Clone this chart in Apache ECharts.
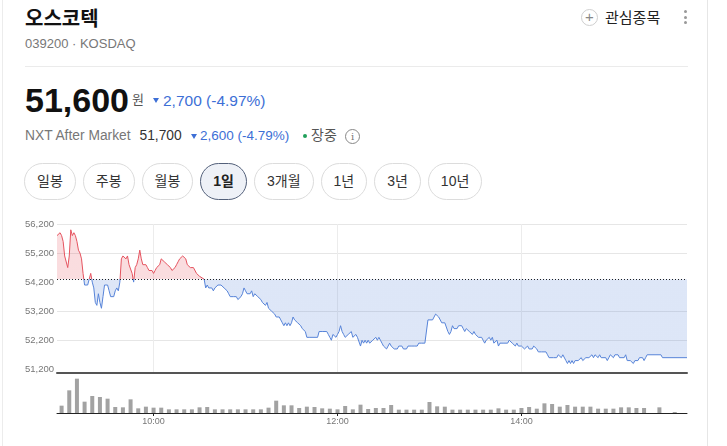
<!DOCTYPE html>
<html lang="ko">
<head>
<meta charset="utf-8">
<title>오스코텍 1일 차트</title>
<script src="https://cdn.jsdelivr.net/npm/echarts@6/dist/echarts.min.js"></script>
<style>
  html, body { margin: 0; padding: 0; background: #fff; }
  body {
    width: 727px; height: 446px; position: relative; overflow: hidden;
    font-family: "Liberation Sans", "Noto Sans CJK KR", sans-serif; color: #222;
  }
  .abs { position: absolute; white-space: nowrap; }
  .card-l { position: absolute; left: 2px; top: 0; width: 1px; height: 446px; background: #ececec; }
  .card-r { position: absolute; left: 707px; top: 0; width: 1px; height: 446px; background: #e6e6e6; }
  .down { position: absolute; width: 0; height: 0; border-left: 3.5px solid transparent;
          border-right: 3.5px solid transparent; border-top: 5px solid #3d6fd6; }
  .btns { position: absolute; left: 24px; top: 163px; display: flex; gap: 7px; }
  .btn { box-sizing: border-box; height: 37px; padding: 0 12px; border: 1px solid #dcdcdc;
         border-radius: 19px; font-size: 14px; line-height: 35px; color: #333; background: #fff; }
  .btn.on { border-color: #53607a; background: #eef1f7; font-weight: bold; color: #222; }
  #main { position: absolute; left: 0; top: 205px; width: 727px; height: 241px; }
</style>
</head>
<body>
<div class="card-l"></div>
<div class="card-r"></div>

<div class="abs" style="left:25px;top:7px;font-size:20px;line-height:24px;font-weight:bold;color:#111;">오스코텍</div>
<div class="abs" style="left:25px;top:36px;font-size:13px;line-height:16px;color:#777;">039200 · KOSDAQ</div>

<div class="abs" style="left:581px;top:9px;width:17px;height:17px;border:1px solid #cfcfcf;border-radius:50%;box-sizing:border-box;text-align:center;font-size:15px;line-height:14px;color:#888;">+</div>
<div class="abs" style="left:605px;top:8px;font-size:15px;line-height:20px;color:#222;">관심종목</div>
<div class="abs" style="left:684px;top:10px;width:3px;height:3px;border-radius:50%;background:#999;"></div>
<div class="abs" style="left:684px;top:15.5px;width:3px;height:3px;border-radius:50%;background:#999;"></div>
<div class="abs" style="left:684px;top:21px;width:3px;height:3px;border-radius:50%;background:#999;"></div>

<div class="abs" style="left:25px;top:66px;width:663px;height:1px;background:#ebebeb;"></div>

<div class="abs" style="left:25px;top:80px;font-size:34px;line-height:40px;font-weight:bold;color:#111;">51,600</div>
<div class="abs" style="left:132px;top:91px;font-size:13px;line-height:18px;color:#555;">원</div>
<div class="down" style="left:152.5px;top:97.5px;"></div>
<div class="abs" style="left:163px;top:91px;font-size:15.5px;line-height:20px;color:#3d6fd6;">2,700 (-4.97%)</div>

<div class="abs" style="left:25px;top:127px;font-size:13.8px;line-height:18px;color:#777;">NXT After Market</div>
<div class="abs" style="left:139.5px;top:127px;font-size:13.8px;line-height:18px;color:#333;">51,700</div>
<div class="down" style="left:190.5px;top:133.5px;"></div>
<div class="abs" style="left:200px;top:127px;font-size:13.5px;line-height:18px;color:#3d6fd6;">2,600 (-4.79%)</div>
<div class="abs" style="left:303px;top:134px;width:4px;height:4px;border-radius:50%;background:#20a05a;"></div>
<div class="abs" style="left:311px;top:126px;font-size:14px;line-height:19px;color:#555;">장중</div>
<div class="abs" style="left:345px;top:129px;width:15px;height:15px;border:1px solid #888;border-radius:50%;box-sizing:border-box;text-align:center;font-size:10px;line-height:13px;color:#777;font-family:'DejaVu Serif',serif;">i</div>

<div class="btns">
  <div class="btn">일봉</div>
  <div class="btn">주봉</div>
  <div class="btn">월봉</div>
  <div class="btn on">1일</div>
  <div class="btn">3개월</div>
  <div class="btn">1년</div>
  <div class="btn">3년</div>
  <div class="btn">10년</div>
</div>

<div id="main"></div>

<script>
// 전일 종가 (점선 기준선)
const prevClose = 54300;

// 1분 체결가 (시각, 가격)
const times = [
  '08:57','08:58','08:59','09:00','09:01','09:02','09:04','09:05','09:06','09:07','09:08','09:09',
  '09:10','09:11','09:12','09:13','09:14','09:15','09:17','09:18','09:19','09:20','09:21',
  '09:22','09:23','09:24','09:25','09:26','09:27','09:28','09:30','09:31','09:32','09:33','09:34',
  '09:35','09:36','09:37','09:38','09:39','09:40','09:42','09:43','09:44','09:45','09:46','09:47',
  '09:48','09:49','09:50','09:51','09:52','09:53','09:55','09:56','09:57','09:58','09:59',
  '10:00','10:01','10:02','10:03','10:04','10:05','10:07','10:08','10:09','10:10','10:11',
  '10:12','10:13','10:14','10:15','10:16','10:17','10:19','10:20','10:21','10:22','10:24',
  '10:26','10:28','10:30','10:33','10:34','10:35','10:36','10:37','10:38','10:39',
  '10:40','10:41','10:42','10:44','10:45','10:46','10:47','10:48','10:49','10:50','10:51','10:52',
  '10:53','10:54','10:55','10:57','10:58','10:59','11:00','11:01','11:02','11:03','11:04','11:05',
  '11:06','11:07','11:08','11:10','11:11','11:12','11:13','11:14','11:15','11:16','11:17','11:18',
  '11:19','11:20','11:22','11:23','11:24','11:25','11:26','11:27','11:28','11:29','11:30','11:31',
  '11:32','11:34','11:35','11:36','11:37','11:38','11:39','11:40','11:42','11:44','11:47','11:48',
  '11:50','11:53','11:54','11:55','11:56','11:57','11:59','12:00','12:01',
  '12:02','12:03','12:04','12:05','12:06','12:07','12:08','12:09','12:10','12:12','12:13','12:14',
  '12:15','12:16','12:17','12:18','12:19','12:20','12:21','12:22','12:23','12:25','12:26','12:27',
  '12:28','12:29','12:30','12:31','12:32','12:33','12:34','12:35','12:37','12:38','12:39','12:40',
  '12:41','12:42','12:43','12:44','12:45','12:46','12:47','12:48','12:50','12:51','12:52','12:53','12:55','12:57',
  '12:58','12:59','13:00','13:02','13:03','13:04','13:06','13:08','13:10','13:12','13:13','13:14',
  '13:15','13:16','13:17','13:18','13:19','13:21','13:22','13:23','13:24','13:26','13:27',
  '13:28','13:29','13:30','13:31','13:32','13:34','13:35','13:36','13:37','13:38','13:39','13:40','13:41',
  '13:42','13:43','13:44','13:45','13:46','13:47','13:48','13:49','13:51','13:52','13:53','13:54',
  '13:55','13:56','13:57','13:58','13:59','14:00','14:01','14:02','14:04','14:05','14:06','14:07',
  '14:08','14:09','14:10','14:11','14:12','14:13','14:14','14:16','14:17','14:18','14:19','14:21',
  '14:22','14:23','14:24','14:25','14:26','14:27','14:29','14:30','14:31','14:32','14:33','14:34','14:35',
  '14:36','14:37','14:38','14:39','14:40','14:42','14:43','14:44','14:45','14:46','14:47','14:48','14:49',
  '14:50','14:51','14:52','14:53','14:55','14:56','14:57','14:58','14:59','15:00','15:01','15:02',
  '15:03','15:04','15:05','15:07','15:08','15:09','15:10','15:11','15:12','15:13','15:14','15:15','15:16','15:17',
  '15:19','15:20','15:21','15:22','15:31','15:32','15:48'
];
const prices = [
  55800,55800,55900,55800,55600,55100,54700,55100,56000,55800,55900,55800,
  55600,55300,55200,55000,54500,54100,54100,54300,54500,54200,54000,
  53500,53400,53800,53500,53300,53700,54100,54100,53900,53700,53700,53700,
  53900,54000,53900,54200,55000,55100,55000,55100,54800,54800,54500,54200,
  54700,54800,55000,55300,55000,54800,54800,54700,54600,54600,54600,
  54500,54600,54700,54700,54800,55000,54900,54900,54800,54800,54700,
  54600,54600,54700,54800,54900,55000,55100,55100,55000,54800,54700,
  54700,54500,54400,54300,54000,54100,54000,54000,54000,53900,
  54000,54000,54100,54100,54100,54000,54000,53900,53800,53700,53700,53700,
  53700,53700,53600,53700,53800,54000,53900,53800,53800,53800,53900,53700,
  53800,53800,53700,53600,53500,53500,53400,53500,53300,53300,53200,53200,
  53100,53000,53000,52900,52800,52700,52800,52700,52800,52700,52800,53000,
  52900,52800,52800,52700,52600,52600,52500,52300,52300,52300,52300,52500,
  52500,52500,52400,52300,52200,52400,52300,52400,52500,
  52700,52500,52400,52300,52300,52400,52400,52500,52300,52400,52300,52300,
  52000,52200,52100,52200,52100,52200,52100,52100,52200,52300,52200,52300,
  52200,52100,52000,52000,51900,52000,52100,52000,51900,51900,51900,52000,
  52000,52000,51900,51900,51900,52000,52000,52000,52000,52000,52000,52100,52100,52100,
  52100,52900,52900,52900,52900,53100,53000,52800,52800,52500,52400,52500,
  52700,52600,52600,52600,52700,52700,52600,52500,52600,52500,52500,
  52400,52500,52400,52400,52300,52300,52200,52100,52200,52200,52300,52200,52300,
  52100,52100,52200,52000,52100,52100,52100,52100,52100,52200,52200,52100,
  52100,52000,52100,52000,52000,52000,52000,51900,52000,51900,51900,51900,
  52000,52000,51900,51800,51800,51800,51800,51800,51700,51600,51600,51600,
  51600,51600,51700,51700,51600,51700,51500,51400,51500,51400,51500,51400,51500,
  51500,51500,51500,51600,51500,51600,51600,51600,51600,51700,51600,51700,51700,
  51600,51700,51600,51600,51600,51500,51600,51700,51700,51600,51700,51700,
  51700,51600,51600,51600,51700,51500,51500,51500,51500,51400,51500,51500,51500,51600,
  51600,51500,51600,51700,51700,51600,51600
];

// 5분 거래량 (천주)
const volumeTimes = [
  '09:00','09:05','09:10','09:15','09:20','09:25','09:30','09:35','09:40','09:45','09:50','09:55',
  '10:00','10:05','10:10','10:15','10:20','10:25','10:30','10:35','10:40','10:45','10:50','10:55',
  '11:00','11:05','11:10','11:15','11:20','11:25','11:30','11:35','11:40','11:45','11:50','11:55',
  '12:00','12:05','12:10','12:15','12:20','12:25','12:30','12:35','12:40','12:45','12:50','12:55',
  '13:00','13:05','13:10','13:15','13:20','13:25','13:30','13:35','13:40','13:45','13:50','13:55',
  '14:00','14:05','14:10','14:15','14:20','14:25','14:30','14:35','14:40','14:45','14:50','14:55',
  '15:00','15:05','15:10','15:15','15:20','15:25','15:30','15:35','15:40'
];
const volumes = [
  22,68,103,34,51,48,43,18,17,41,14,19,
  16,16,11,11,11,11,17,18,11,11,11,11,
  11,11,11,16,37,23,23,15,19,18,14,13,
  11,21,11,25,12,15,15,24,10,10,10,10,
  33,20,19,10,10,10,10,10,10,14,10,10,
  15,18,13,29,27,19,24,19,19,19,13,13,
  13,17,17,15,15,0,17,0,3
];

// 축 눈금
const priceLabels = [51200, 52200, 53200, 54200, 55200, 56200];
const priceGridLines = [52200, 53200, 55200, 56200];
const timeLabels = ['10:00', '12:00', '14:00'];

const toMin = t => { const [h, m] = t.split(':').map(Number); return h * 60 + m; };
const fmtTime = v => String(Math.floor(v / 60)).padStart(2, '0') + ':' + String(v % 60).padStart(2, '0');
const timeTicks = timeLabels.map(toMin);

const lineData = times.map((t, i) => [toMin(t), prices[i]]);
const volData = volumeTimes.map((t, i) => [toMin(t), volumes[i]]);

const chartDom = document.getElementById('main');
const myChart = echarts.init(chartDom, null, { renderer: 'canvas' });

const axisFont = { fontFamily: 'Liberation Sans', color: '#777' };

const option = {
  animation: false,
  grid: [
    { left: 57, top: 19, width: 630, height: 149, outerBoundsMode: 'none' },
    { left: 57, top: 173, width: 630, height: 35, outerBoundsMode: 'none' }
  ],
  xAxis: [
    {
      type: 'value', gridIndex: 0, min: toMin('08:57'), max: toMin('15:48'),
      axisLine: { show: true, onZero: false, lineStyle: { color: '#555', width: 2 } },
      axisTick: { show: false, customValues: timeTicks },
      axisLabel: { show: false },
      splitLine: { show: true, lineStyle: { color: '#ececec', width: 1 } }
    },
    {
      type: 'value', gridIndex: 1, min: toMin('08:57'), max: toMin('15:48'),
      axisLine: { show: true, onZero: false, lineStyle: { color: '#222', width: 1 } },
      axisTick: { show: true, length: 3, customValues: timeTicks, lineStyle: { color: '#222' } },
      axisLabel: {
        show: true, customValues: timeTicks, formatter: v => fmtTime(v),
        fontSize: 9, margin: 4, ...axisFont
      },
      splitLine: { show: false }
    }
  ],
  yAxis: [
    {
      type: 'value', gridIndex: 0, min: 51073, max: 56200,
      axisLine: { show: false },
      axisTick: { show: false, customValues: priceGridLines },
      axisLabel: {
        customValues: priceLabels, formatter: v => v.toLocaleString('en-US'),
        fontSize: 9.5, margin: 3, ...axisFont
      },
      splitLine: { show: true, lineStyle: { color: '#e6e6e6', width: 1 } }
    },
    {
      type: 'value', gridIndex: 1, min: 0, max: 105,
      axisLine: { show: false }, axisTick: { show: false },
      axisLabel: { show: false }, splitLine: { show: false }
    }
  ],
  visualMap: {
    show: false, type: 'piecewise', seriesIndex: 0, dimension: 1,
    pieces: [
      { gt: prevClose, lte: 60000, color: '#e5535f' },
      { gte: 45000, lte: prevClose, color: '#5683d8' }
    ]
  },
  series: [
    {
      type: 'line', xAxisIndex: 0, yAxisIndex: 0, data: lineData,
      showSymbol: false, silent: true,
      lineStyle: { width: 1 },
      areaStyle: { origin: prevClose, opacity: 0.2 },
      markLine: {
        silent: true, symbol: ['none', 'none'],
        label: { show: false },
        lineStyle: { color: '#222', width: 1, type: [1, 2] },
        data: [{ yAxis: prevClose }]
      }
    },
    {
      type: 'bar', xAxisIndex: 1, yAxisIndex: 1, data: volData,
      barWidth: 4, silent: true,
      itemStyle: { color: '#a2a2a2' }
    }
  ]
};

option && myChart.setOption(option);
</script>
</body>
</html>
